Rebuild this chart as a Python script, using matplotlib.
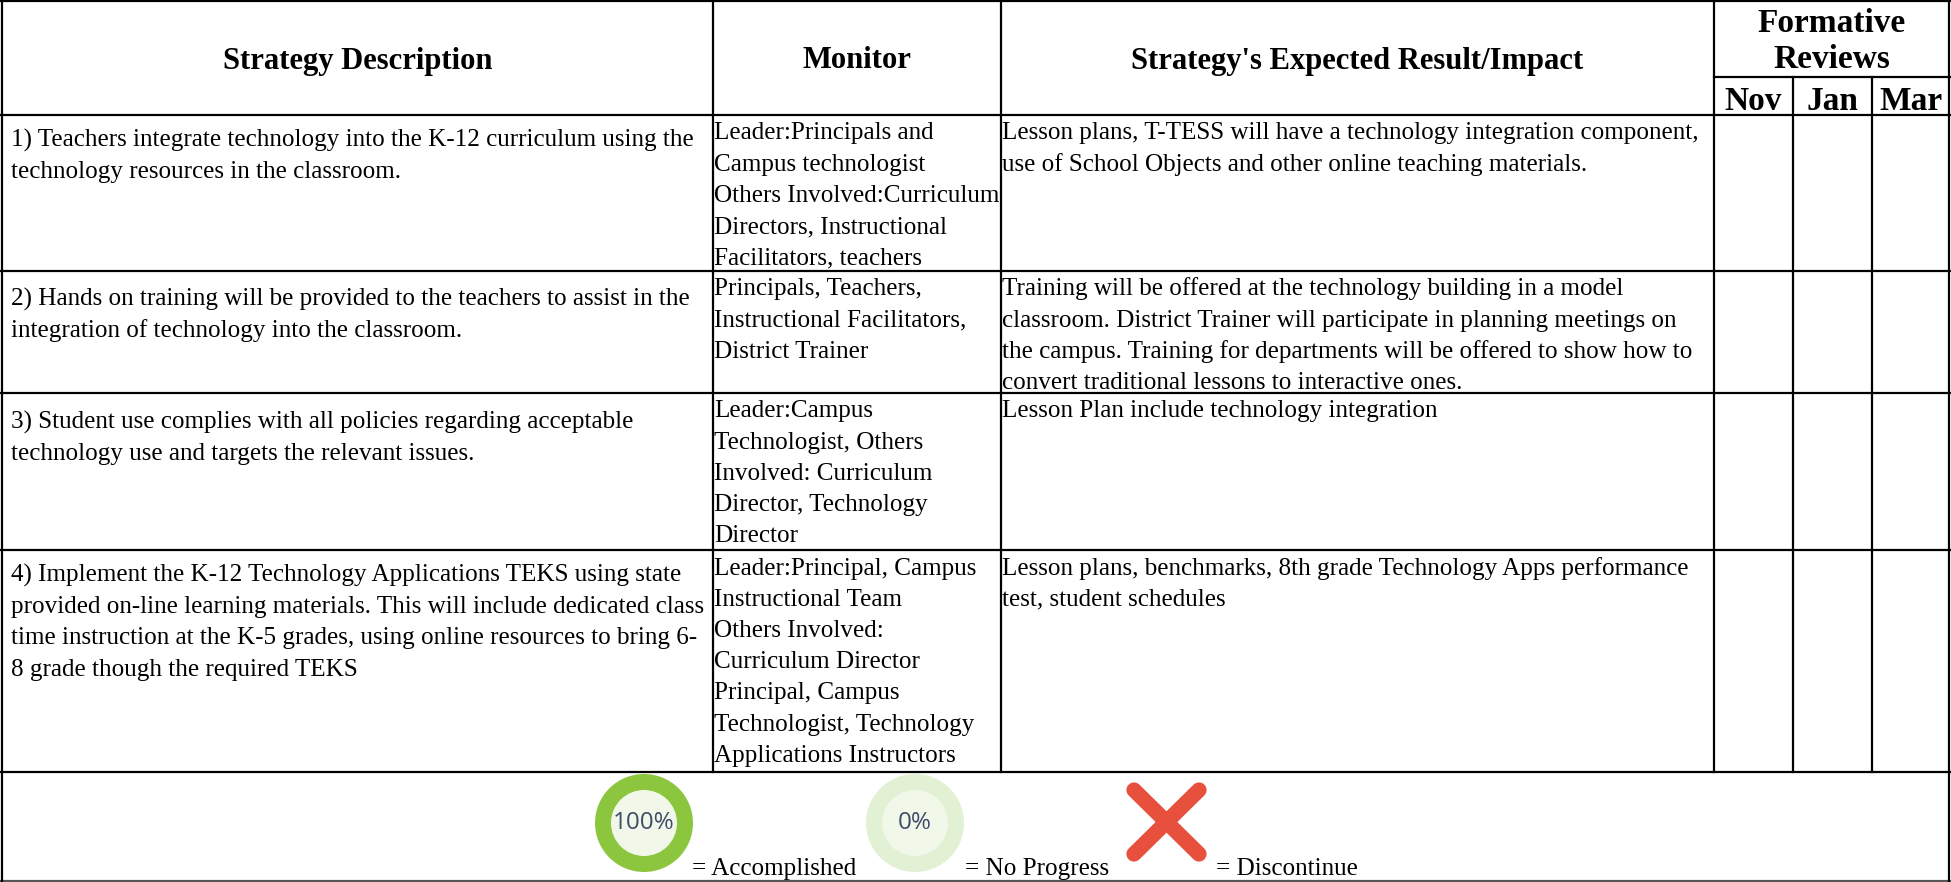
import matplotlib
matplotlib.use('Agg')
import matplotlib.pyplot as plt
from matplotlib.patches import Circle

plt.rcParams['font.family'] = ['Liberation Serif', 'DejaVu Serif']

W, H = 1951, 882

# table text
headers = ["Strategy Description", "Monitor", "Strategy's Expected Result/Impact"]
review_title = ["Formative", "Reviews"]
months = ["Nov", "Jan", "Mar"]

strategies = [
    ["1) Teachers integrate technology into the K-12 curriculum using the",
     "technology resources in the classroom."],
    ["2) Hands on training will be provided to the teachers to assist in the",
     "integration of technology into the classroom."],
    ["3) Student use complies with all policies regarding acceptable",
     "technology use and targets the relevant issues."],
    ["4) Implement the K-12 Technology Applications TEKS using state",
     "provided on-line learning materials. This will include dedicated class",
     "time instruction at the K-5 grades, using online resources to bring 6-",
     "8 grade though the required TEKS"],
]
monitors = [
    ["Leader:Principals and", "Campus technologist", "Others Involved:Curriculum",
     "Directors, Instructional", "Facilitators, teachers"],
    ["Principals, Teachers,", "Instructional Facilitators,", "District Trainer"],
    ["Leader:Campus", "Technologist, Others", "Involved: Curriculum",
     "Director, Technology", "Director"],
    ["Leader:Principal, Campus", "Instructional Team", "Others Involved:",
     "Curriculum Director", "Principal, Campus", "Technologist, Technology",
     "Applications Instructors"],
]
impacts = [
    ["Lesson plans, T-TESS will have a technology integration component,",
     "use of School Objects and other online teaching materials."],
    ["Training will be offered at the technology building in a model",
     "classroom. District Trainer will participate in planning meetings on",
     "the campus. Training for departments will be offered to show how to",
     "convert traditional lessons to interactive ones."],
    ["Lesson Plan include technology integration"],
    ["Lesson plans, benchmarks, 8th grade Technology Apps performance",
     "test, student schedules"],
]
legend_labels = ["= Accomplished", "= No Progress", "= Discontinue"]
legend_pcts = ["100%", "0%"]

# layout in pixels
col_x = [2, 713, 1001, 1714, 1793, 1872, 1949]
row_y = [115, 271, 393, 550, 772]
strat_off = [32, 35, 35.5, 32]
line_h = 31.2
body_size = 18.1
head_size = 22.1

fig = plt.figure(figsize=(W / 100, H / 100), dpi=100)
ax = fig.add_axes([0, 0, 1, 1])
ax.set_xlim(0, W)
ax.set_ylim(H, 0)
ax.axis('off')

# grid lines
lw = 1.6
ax.plot([0, W], [1, 1], color='black', lw=lw)
ax.plot([0, W], [881, 881], color='#555555', lw=lw)
ax.plot([2, 2], [0, H], color='black', lw=lw)
ax.plot([1949, 1949], [0, H], color='black', lw=lw)
for y in row_y:
    ax.plot([0, W], [y, y], color='black', lw=lw)
for x in col_x[1:4]:
    ax.plot([x, x], [0, 772], color='black', lw=lw)
for x in col_x[4:6]:
    ax.plot([x, x], [77, 772], color='black', lw=lw)
ax.plot([1714, W], [77, 77], color='black', lw=lw)

# headers
for i, h in enumerate(headers):
    ax.text((col_x[i] + col_x[i + 1]) / 2, 61, h, fontsize=head_size,
            fontweight='bold', ha='center', va='center')
ax.text(1832, 23, review_title[0], fontsize=24, fontweight='bold', ha='center', va='center')
ax.text(1832, 60, review_title[1], fontsize=24, fontweight='bold', ha='center', va='center')
for i, m in enumerate(months):
    ax.text((col_x[3 + i] + col_x[4 + i]) / 2, 101, m, fontsize=24,
            fontweight='bold', ha='center', va='center')

# body rows
for r in range(4):
    top = row_y[r]
    for j, line in enumerate(strategies[r]):
        ax.text(11, top + strat_off[r] + j * line_h, line, fontsize=body_size, va='baseline')
    for j, line in enumerate(monitors[r]):
        ax.text(714, top + 24.5 + j * line_h, line, fontsize=body_size, va='baseline')
    for j, line in enumerate(impacts[r]):
        ax.text(1002, top + 24.5 + j * line_h, line, fontsize=body_size, va='baseline')

# legend icons
ax.add_patch(Circle((644, 823), 49, color='#8CC63F', lw=0))
ax.add_patch(Circle((644, 823), 33, color='#F1F8EA', lw=0))
ax.text(644, 823, legend_pcts[0], family='Open Sans', fontsize=17.5, color='#3E4E66', ha='center', va='center')
ax.add_patch(Circle((915, 823), 49, color='#E2F0D4', lw=0))
ax.add_patch(Circle((915, 823), 33, color='#F1F8EA', lw=0))
ax.text(915, 823, legend_pcts[1], family='Open Sans', fontsize=17.5, color='#3E4E66', ha='center', va='center')
ax.plot([1134, 1199], [790, 854], color='#E8503E', lw=11, solid_capstyle='round')
ax.plot([1134, 1199], [854, 790], color='#E8503E', lw=11, solid_capstyle='round')

for x, label in zip([692, 965, 1216], legend_labels):
    ax.text(x, 875, label, fontsize=body_size, va='baseline')

fig.savefig('out.png', dpi=100)
